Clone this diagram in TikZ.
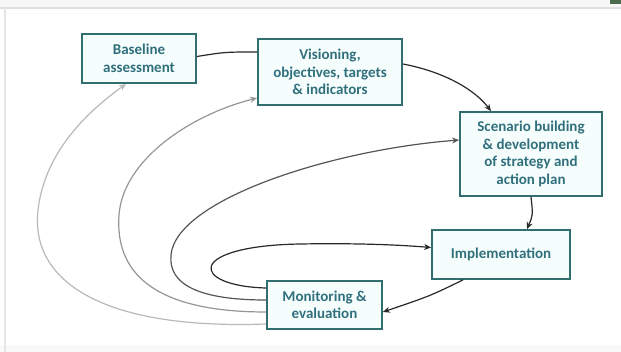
\documentclass[tikz,border=0pt]{standalone}
\usepackage{fontspec}
\setmainfont{Carlito}
\usetikzlibrary{arrows.meta,calc}
\definecolor{boxline}{RGB}{48,110,112}
\definecolor{boxtext}{RGB}{48,112,125}
\definecolor{boxfill}{RGB}{246,253,253}
\definecolor{darkln}{RGB}{40,40,40}
\definecolor{midln}{RGB}{85,85,85}
\definecolor{lightln}{RGB}{150,150,150}
\definecolor{paleln}{RGB}{185,185,185}
\tikzset{
  stagebox/.style={draw=boxline, line width=1.8pt, fill=boxfill, align=center,
    text=boxtext, font=\fontsize{15}{17.5}\selectfont\bfseries, inner sep=2pt},
  conn/.style={line width=1.2pt, -{Stealth[length=7pt,width=6pt]}},
  plain/.style={line width=1.2pt}
}
\begin{document}
\begin{tikzpicture}[x=1pt,y=-1pt]
\useasboundingbox (0,0) rectangle (621,352);
\fill[white] (0,0) rectangle (621,352);
\fill[gray!6] (0,0) rectangle (621,7);
\draw[gray!25, line width=1.5pt] (0,8) -- (621,8);
\fill[gray!5] (0,345) rectangle (621,352);
\draw[gray!20, line width=1.5pt] (5,8) -- (5,352);
\fill[black!70!green!40!gray] (610,0) rectangle (621,4);

\node[stagebox, minimum width=114pt, minimum height=49pt] (base) at (139,58.5) {Baseline\\assessment};
\node[stagebox, minimum width=144pt, minimum height=66pt] (vis) at (330,72) {Visioning,\\objectives, targets\\\& indicators};
\node[stagebox, minimum width=142pt, minimum height=84pt] (scen) at (531,154) {Scenario building\\\& development\\of strategy and\\action plan};
\node[stagebox, minimum width=138pt, minimum height=49pt] (impl) at (501,254.5) {Implementation};
\node[stagebox, minimum width=115pt, minimum height=48pt] (mon) at (324.5,305) {Monitoring \&\\evaluation};

% forward flow
\draw[plain, darkln] ([yshift=2pt]base.east) .. controls (225,52) .. ([yshift=20pt]vis.west);
\draw[conn, darkln] ([yshift=8pt]vis.east) .. controls (445,72) and (475,90) .. ([xshift=-40pt]scen.north);
\draw[conn, darkln] (scen.south) .. controls (533,215) .. ([xshift=26pt]impl.north);
\draw[conn, darkln] ([xshift=-38pt]impl.south) .. controls (430,296) .. ([yshift=-7pt]mon.east);

% feedback loops
\draw[conn, darkln] ([yshift=17pt]mon.west) .. controls (190,286) and (185,246) .. (300,244) .. controls (360,243) and (400,245) .. ([yshift=7pt]impl.west);
\draw[conn, midln] ([yshift=5pt]mon.west) .. controls (200,300) and (168,285) .. (171,255) .. controls (176,200) and (330,150) .. ([yshift=14pt]scen.west);
\draw[conn, lightln] ([yshift=-7pt]mon.west) .. controls (150,312) and (115,270) .. (119,215) .. controls (123,160) and (190,115) .. ([yshift=-26pt]vis.west);
\draw[conn, paleln] ([yshift=-19pt]mon.west) .. controls (100,330) and (30,280) .. (38,210) .. controls (45,150) and (90,110) .. ([xshift=-13pt]base.south);
\end{tikzpicture}
\end{document}
